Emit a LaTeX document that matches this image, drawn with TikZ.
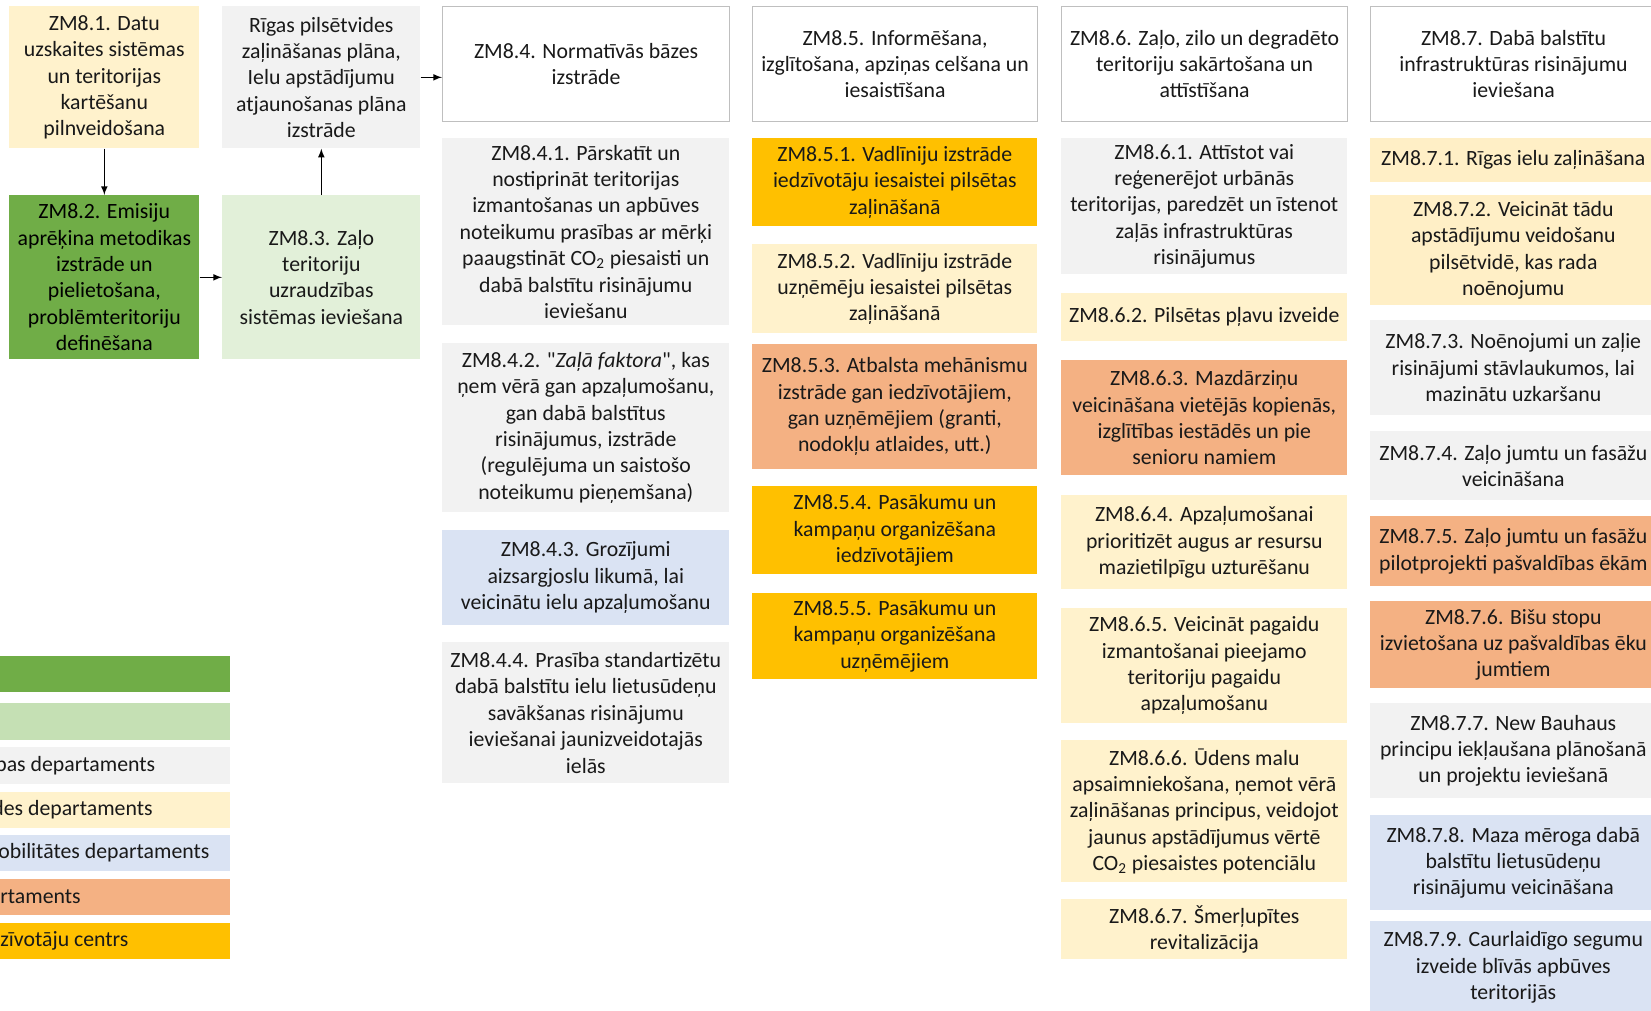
\documentclass[tikz,border=0pt]{standalone}
\usepackage{fontspec}
\setmainfont{Carlito}[Ligatures=TeXOff]
\definecolor{zdark}{HTML}{70AD47}
\definecolor{zlight}{HTML}{E2F0D9}
\definecolor{zleg}{HTML}{C5E0B4}
\definecolor{zgray}{HTML}{F2F2F2}
\definecolor{zcream}{HTML}{FFF2CC}
\definecolor{zcreamb}{HTML}{FFEFC6}
\definecolor{zblue}{HTML}{DAE3F3}
\definecolor{zorange}{HTML}{F4B183}
\definecolor{zgold}{HTML}{FFC000}
\tikzset{
  zbox/.style={anchor=north west, align=center, inner xsep=1pt, inner ysep=0pt,
    text=black!90, font=\fontsize{12.4}{15}\selectfont},
  hdr/.style={zbox, fill=white, draw=black!25, line width=0.7pt, minimum height=2.3cm},
  c1/.style={minimum width=3.8cm},
  c2/.style={minimum width=3.96cm},
  c3/.style={minimum width=5.74cm},
  c4/.style={minimum width=5.7cm},
  c5/.style={minimum width=5.72cm},
  c6/.style={minimum width=5.72cm},
  legbar/.style={anchor=north west, minimum width=6.6cm, inner sep=0pt},
  legtxt/.style={anchor=west, inner sep=0pt, text=black!90, font=\fontsize{12.4}{15}\selectfont},
  arr/.style={-latex, line width=0.7pt}
}
\begin{document}
\begin{tikzpicture}[x=0.02cm, y=-0.02cm]
		\useasboundingbox (0,0) rectangle (1651,1011);
		\clip (0,0) rectangle (1651,1011);
		% first two columns
		\node (z81) [zbox, c1, fill=zcream, minimum height=2.84cm] at (9,6) {ZM8.1. Datu\\uzskaites sistēmas\\un teritorijas\\kartēšanu\\pilnveidošana};
		\node (z82) [zbox, c1, fill=zdark, text=black, minimum height=3.28cm] at (9,195) {ZM8.2. Emisiju\\aprēķina metodikas\\izstrāde un\\pielietošana,\\problēmteritoriju\\definēšana};
		\node (riga) [zbox, c2, fill=zgray, minimum height=2.84cm] at (222,6) {Rīgas pilsētvides\\zaļināšanas plāna,\\Ielu apstādījumu\\atjaunošanas plāna\\izstrāde};
		\node (z83) [zbox, c2, fill=zlight, minimum height=3.28cm] at (222,195) {ZM8.3. Zaļo\\teritoriju\\uzraudzības\\sistēmas ieviešana};
		% ZM8.4
		\node (z84) [hdr, c3] at (442,6) {ZM8.4. Normatīvās bāzes\\izstrāde};
		\node (z841) [zbox, c3, fill=zgray, minimum height=3.74cm] at (442,138) {ZM8.4.1. Pārskatīt un\\nostiprināt teritorijas\\izmantošanas un apbūves\\noteikumu prasības ar mērķi\\paaugstināt CO\textsubscript{2} piesaisti un\\dabā balstītu risinājumu\\ieviešanu};
		\node (z842) [zbox, c3, fill=zgray, minimum height=3.38cm] at (442,343) {ZM8.4.2. "\textit{Zaļā faktora}", kas\\ņem vērā gan apzaļumošanu,\\gan dabā balstītus\\risinājumus, izstrāde\\(regulējuma un saistošo\\noteikumu pieņemšana)};
		\node (z843) [zbox, c3, fill=zblue, minimum height=1.9cm] at (442,530) {ZM8.4.3. Grozījumi\\aizsargjoslu likumā, lai\\veicinātu ielu apzaļumošanu};
		\node (z844) [zbox, c3, fill=zgray, minimum height=2.82cm] at (442,642) {ZM8.4.4. Prasība standartizētu\\dabā balstītu ielu lietusūdeņu\\savākšanas risinājumu\\ieviešanai jaunizveidotajās\\ielās};
		% ZM8.5
		\node (z85) [hdr, c4] at (752,6) {ZM8.5. Informēšana,\\izglītošana, apziņas celšana un\\iesaistīšana};
		\node (z851) [zbox, c4, fill=zgold, minimum height=1.76cm] at (752,138) {ZM8.5.1. Vadlīniju izstrāde\\iedzīvotāju iesaistei pilsētas\\zaļināšanā};
		\node (z852) [zbox, c4, fill=zcream, minimum height=1.78cm] at (752,244) {ZM8.5.2. Vadlīniju izstrāde\\uzņēmēju iesaistei pilsētas\\zaļināšanā};
		\node (z853) [zbox, c4, fill=zorange, minimum height=2.5cm] at (752,344) {ZM8.5.3. Atbalsta mehānismu\\izstrāde gan iedzīvotājiem,\\gan uzņēmējiem (granti,\\nodokļu atlaides, utt.)};
		\node (z854) [zbox, c4, fill=zgold, minimum height=1.76cm] at (752,486) {ZM8.5.4. Pasākumu un\\kampaņu organizēšana\\iedzīvotājiem};
		\node (z855) [zbox, c4, fill=zgold, minimum height=1.72cm] at (752,593) {ZM8.5.5. Pasākumu un\\kampaņu organizēšana\\uzņēmējiem};
		% ZM8.6
		\node (z86) [hdr, c5] at (1061,6) {ZM8.6. Zaļo, zilo un degradēto\\teritoriju sakārtošana un\\attīstīšana};
		\node (z861) [zbox, c5, fill=zgray, minimum height=2.72cm] at (1061,138) {ZM8.6.1. Attīstot vai\\reģenerējot urbānās\\teritorijas, paredzēt un īstenot\\zaļās infrastruktūras\\risinājumus};
		\node (z862) [zbox, c5, fill=zcream, minimum height=0.96cm] at (1061,293) {ZM8.6.2. Pilsētas pļavu izveide};
		\node (z863) [zbox, c5, fill=zorange, minimum height=2.3cm] at (1061,360) {ZM8.6.3. Mazdārziņu\\veicināšana vietējās kopienās,\\izglītības iestādēs un pie\\senioru namiem};
		\node (z864) [zbox, c5, fill=zcream, minimum height=1.88cm] at (1061,495) {ZM8.6.4. Apzaļumošanai\\prioritizēt augus ar resursu\\mazietilpīgu uzturēšanu};
		\node (z865) [zbox, c5, fill=zcream, minimum height=2.3cm] at (1061,608) {ZM8.6.5. Veicināt pagaidu\\izmantošanai pieejamo\\teritoriju pagaidu\\apzaļumošanu};
		\node (z866) [zbox, c5, fill=zcream, minimum height=2.84cm] at (1061,740) {ZM8.6.6. Ūdens malu\\apsaimniekošana, ņemot vērā\\zaļināšanas principus, veidojot\\jaunus apstādījumus vērtē\\CO\textsubscript{2} piesaistes potenciālu};
		\node (z867) [zbox, c5, fill=zcream, minimum height=1.2cm] at (1061,899) {ZM8.6.7. Šmerļupītes\\revitalizācija};
		% ZM8.7
		\node (z87) [hdr, c6] at (1370,6) {ZM8.7. Dabā balstītu\\infrastruktūras risinājumu\\ieviešana};
		\node (z871) [zbox, c6, fill=zcreamb, minimum height=0.88cm] at (1370,138) {ZM8.7.1. Rīgas ielu zaļināšana};
		\node (z872) [zbox, c6, fill=zcreamb, minimum height=2.2cm] at (1370,195) {ZM8.7.2. Veicināt tādu\\apstādījumu veidošanu\\pilsētvidē, kas rada\\noēnojumu};
		\node (z873) [zbox, c6, fill=zgray, minimum height=1.9cm] at (1370,320) {ZM8.7.3. Noēnojumi un zaļie\\risinājumi stāvlaukumos, lai\\mazinātu uzkaršanu};
		\node (z874) [zbox, c6, fill=zgray, minimum height=1.38cm] at (1370,431) {ZM8.7.4. Zaļo jumtu un fasāžu\\veicināšana};
		\node (z875) [zbox, c6, fill=zorange, minimum height=1.4cm] at (1370,516) {ZM8.7.5. Zaļo jumtu un fasāžu\\pilotprojekti pašvaldības ēkām};
		\node (z876) [zbox, c6, fill=zorange, minimum height=1.74cm] at (1370,601) {ZM8.7.6. Bišu stopu\\izvietošana uz pašvaldības ēku\\jumtiem};
		\node (z877) [zbox, c6, fill=zgray, minimum height=1.9cm] at (1370,703) {ZM8.7.7. New Bauhaus\\principu iekļaušana plānošanā\\un projektu ieviešanā};
		\node (z878) [zbox, c6, fill=zblue, minimum height=1.9cm] at (1370,815) {ZM8.7.8. Maza mēroga dabā\\balstītu lietusūdeņu\\risinājumu veicināšana};
		\node (z879) [zbox, c6, fill=zblue, minimum height=1.84cm] at (1370,921) {ZM8.7.9. Caurlaidīgo segumu\\izveide blīvās apbūves\\teritorijās};
		% legend
		\node (leg1) [legbar, fill=zdark, minimum height=0.72cm] at (-100,656) {};
		\node (leg2) [legbar, fill=zleg, minimum height=0.74cm] at (-100,703) {};
		\node (leg3) [legbar, fill=zgray, minimum height=0.74cm] at (-100,747) {};
		\node (leg4) [legbar, fill=zcream, minimum height=0.72cm] at (-100,792) {};
		\node (leg5) [legbar, fill=zblue, minimum height=0.72cm] at (-100,835) {};
		\node (leg6) [legbar, fill=zorange, minimum height=0.72cm] at (-100,879) {};
		\node (leg7) [legbar, fill=zgold, minimum height=0.72cm] at (-100,923) {};
		\node (lt3) [legtxt] at (-5,766) {bas departaments};
		\node (lt4) [legtxt] at (-8,810) {des departaments};
		\node (lt5) [legtxt] at (-2,853) {obilitātes departaments};
		\node (lt6) [legtxt] at (0,897) {rtaments};
		\node (lt7) [legtxt] at (0,941) {zīvotāju centrs};
		% arrows
		\draw [arr] (z81) edge (z82);
		\draw [arr] (z82) edge (z83);
		\draw [arr] (z83) edge (riga);
		\draw [arr] (riga.east) -- (riga.east -| z84.west);
\end{tikzpicture}
\end{document}
